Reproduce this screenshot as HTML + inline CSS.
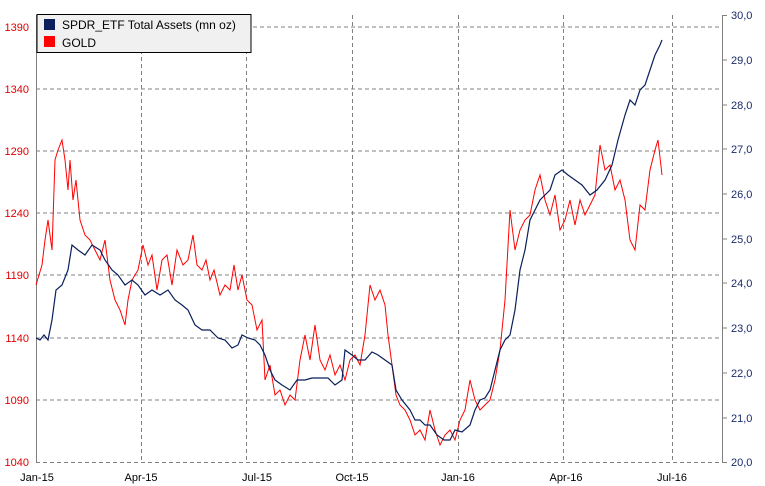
<!DOCTYPE html>
<html><head><style>body{margin:0;background:#fff}svg{display:block}</style></head><body>
<svg width="765" height="486" viewBox="0 0 765 486" xmlns="http://www.w3.org/2000/svg" font-family="Liberation Sans, sans-serif" font-size="11">
<g stroke="#808080" stroke-dasharray="4,3" stroke-width="1">
<line x1="36" y1="27" x2="722" y2="27"/><line x1="36" y1="89" x2="722" y2="89"/><line x1="36" y1="151" x2="722" y2="151"/><line x1="36" y1="213" x2="722" y2="213"/><line x1="36" y1="275" x2="722" y2="275"/><line x1="36" y1="338" x2="722" y2="338"/><line x1="36" y1="400" x2="722" y2="400"/><line x1="36" y1="462.5" x2="722" y2="462.5"/>
<line x1="141.5" y1="15" x2="141.5" y2="462"/><line x1="246.5" y1="15" x2="246.5" y2="462"/><line x1="352.5" y1="15" x2="352.5" y2="462"/><line x1="458.5" y1="15" x2="458.5" y2="462"/><line x1="563.5" y1="15" x2="563.5" y2="462"/><line x1="672.5" y1="15" x2="672.5" y2="462"/>
</g>
<g stroke="#808080"><line x1="36.5" y1="15" x2="36.5" y2="463"/><line x1="722.5" y1="15" x2="722.5" y2="463"/>
<line x1="722" y1="15.5" x2="727" y2="15.5"/><line x1="722" y1="60" x2="727" y2="60"/><line x1="722" y1="105" x2="727" y2="105"/><line x1="722" y1="149" x2="727" y2="149"/><line x1="722" y1="194" x2="727" y2="194"/><line x1="722" y1="239" x2="727" y2="239"/><line x1="722" y1="283" x2="727" y2="283"/><line x1="722" y1="328" x2="727" y2="328"/><line x1="722" y1="373" x2="727" y2="373"/><line x1="722" y1="418" x2="727" y2="418"/><line x1="722" y1="462.5" x2="727" y2="462.5"/>
</g>
<g fill="#e00000" text-anchor="end">
<text x="29" y="31">1390</text><text x="29" y="93">1340</text><text x="29" y="155">1290</text><text x="29" y="217">1240</text><text x="29" y="279">1190</text><text x="29" y="342">1140</text><text x="29" y="404">1090</text><text x="29" y="466">1040</text></g>
<g fill="#1a2a6a">
<text x="731" y="19">30,0</text><text x="731" y="64">29,0</text><text x="731" y="109">28,0</text><text x="731" y="153">27,0</text><text x="731" y="198">26,0</text><text x="731" y="243">25,0</text><text x="731" y="287">24,0</text><text x="731" y="332">23,0</text><text x="731" y="377">22,0</text><text x="731" y="422">21,0</text><text x="731" y="466">20,0</text></g>
<g fill="#000" text-anchor="middle">
<text x="37" y="481">Jan-15</text><text x="141" y="481">Apr-15</text><text x="257" y="481">Jul-15</text><text x="352" y="481">Oct-15</text><text x="458" y="481">Jan-16</text><text x="566" y="481">Apr-16</text><text x="672" y="481">Jul-16</text></g>
<polyline fill="none" stroke="#ff0000" stroke-width="1" points="36,285 42,265 45,240 48,220 52,250 55,160 58,150 62,140 65,160 68,190 70,160 73,200 76,180 80,220 85,235 90,240 95,250 100,260 105,240 110,280 115,300 120,310 125,325 128,300 132,280 138,270 143,245 148,265 152,255 157,290 162,260 167,255 172,285 177,250 183,265 188,260 193,235 197,265 202,270 206,260 210,280 214,270 220,295 225,285 230,290 234,265 238,290 242,275 247,300 252,305 257,330 262,320 265,380 270,365 275,395 280,390 285,405 290,395 295,400 300,360 305,335 310,360 315,325 320,360 325,370 330,355 335,375 340,365 345,380 350,360 355,355 360,365 365,335 370,285 375,300 380,290 385,305 388,335 392,365 396,395 400,405 405,410 410,420 415,435 420,430 425,440 430,410 435,430 440,445 445,435 450,430 455,440 460,420 465,410 470,380 475,400 480,410 485,405 490,400 495,380 500,350 505,300 510,210 515,250 520,230 525,220 530,215 535,190 540,175 545,200 550,215 555,195 560,230 565,220 570,200 575,225 580,200 585,215 590,205 595,195 600,145 605,170 610,165 615,190 620,180 625,200 630,240 635,250 640,205 645,210 650,170 655,150 658,140 662,175"/>
<polyline fill="none" stroke="#0a1f5c" stroke-width="1.2" points="36,338 40,340 44,335 48,340 52,320 56,290 62,285 68,270 72,245 78,250 85,255 92,245 100,250 105,260 112,270 118,275 125,285 132,280 138,285 145,295 152,290 160,295 168,290 175,300 182,305 188,310 195,325 202,330 210,330 218,338 225,340 232,348 238,345 242,335 248,338 255,340 260,345 265,355 270,370 275,380 282,385 290,390 297,380 305,380 312,378 320,378 328,378 335,385 342,380 345,350 352,355 358,360 365,360 372,352 378,355 385,360 392,365 396,390 402,400 410,410 415,420 420,420 425,425 430,425 437,435 444,440 450,440 455,430 462,432 470,425 475,410 480,400 485,398 490,390 495,370 500,350 505,340 510,335 515,310 520,270 525,250 530,220 535,210 540,200 545,195 550,190 555,175 562,170 568,175 575,180 582,185 590,195 597,190 605,180 612,165 618,140 625,115 630,100 635,105 640,90 645,85 650,70 655,55 660,45 662,40"/>
<rect x="37" y="14.5" width="214" height="38" fill="#f0f0f0" stroke="#000"/>
<rect x="44" y="19" width="11" height="11" fill="#0a1f5c"/><rect x="44" y="36" width="11" height="11" fill="#ff0000"/>
<text x="62" y="29" font-size="12">SPDR_ETF Total Assets (mn oz)</text>
<text x="62" y="47" font-size="12">GOLD</text>
</svg>
</body></html>
